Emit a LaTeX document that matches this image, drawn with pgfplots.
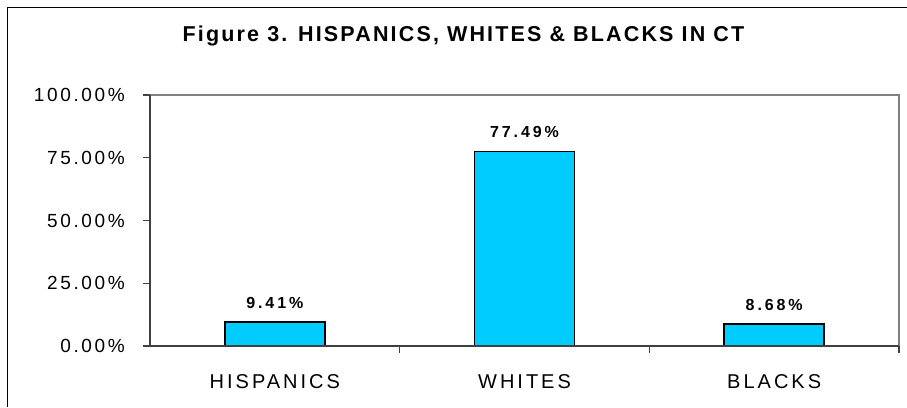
\documentclass[border=0pt]{standalone}
\usepackage{pgfplots}
\pgfplotsset{compat=1.18}
\usepackage{fontspec}
\setmainfont{Liberation Sans}
\newfontfamily\ytickfont[LetterSpace=14]{Liberation Sans}
\newfontfamily\xtickfont[LetterSpace=15]{Liberation Sans}
\newfontfamily\valfont[LetterSpace=18]{Liberation Sans}
\newfontfamily\titlefont[LetterSpace=10]{Liberation Sans}
\definecolor{barcyan}{RGB}{0,204,255}
\definecolor{axdark}{RGB}{64,64,64}
\definecolor{axgray}{RGB}{128,128,128}

\begin{document}
\begin{tikzpicture}[x=1bp,y=1bp]
\path[use as bounding box] (0,0) rectangle (907,407);
\draw[black, line width=1.5bp] (7.5,0) -- (7.5,399.5) -- (907,399.5);
\node[anchor=base, inner sep=0pt] at (463.5,366) {\titlefont\bfseries\fontsize{21.5bp}{24bp}\selectfont Figure 3. HISPANICS, WHITES \& BLACKS IN CT};
\begin{axis}[
  at={(150bp,61bp)}, anchor=south west,
  scale only axis, width=749bp, height=251bp,
  xmin=-0.5, xmax=2.5, ymin=0, ymax=100,
  axis line style={draw=none},
  xtick={0,1,2},
  xticklabels={HISPANICS,WHITES,BLACKS},
  xtick style={draw=none},
  xticklabel style={anchor=north, inner sep=0pt, yshift=-21.5bp, font=\xtickfont\fontsize{20bp}{22bp}\selectfont},
  ytick={0,25,50,75,100},
  yticklabels={0.00\%,25.00\%,50.00\%,75.00\%,100.00\%},
  ytick pos=left,
  tick align=outside,
  major tick length=7bp,
  ytick style={draw=axdark, line width=1.2bp},
  yticklabel style={anchor=east, inner sep=0pt, xshift=-18bp, font=\ytickfont\fontsize{19bp}{21bp}\selectfont},
  ybar, bar width=100bp,
  nodes near coords={\pgfmathprintnumber[fixed,fixed zerofill,precision=2]{\pgfplotspointmeta}\%},
  every node near coord/.append style={anchor=base, inner sep=0pt, yshift=14bp, font=\valfont\bfseries\fontsize{16bp}{18bp}\selectfont},
  /pgf/number format/assume math mode=true,
  clip=false,
]
\addplot[draw=black, line width=1.8bp, fill=barcyan] coordinates {(0,9.41) (1,77.49) (2,8.68)};
\draw[axgray, line width=2bp] (rel axis cs:0,1) -- (rel axis cs:1,1) -- (rel axis cs:1,0);
\draw[axdark, line width=2bp] (rel axis cs:0,1) -- (rel axis cs:0,0) -- (rel axis cs:1,0);
\draw[axdark, line width=1.2bp] (axis cs:0.5,0) -- ([yshift=-7bp]axis cs:0.5,0);
\draw[axdark, line width=1.2bp] (axis cs:1.5,0) -- ([yshift=-7bp]axis cs:1.5,0);
\draw[axdark, line width=1.2bp] (axis cs:2.5,0) -- ([yshift=-7bp]axis cs:2.5,0);
\end{axis}
\end{tikzpicture}
\end{document}
